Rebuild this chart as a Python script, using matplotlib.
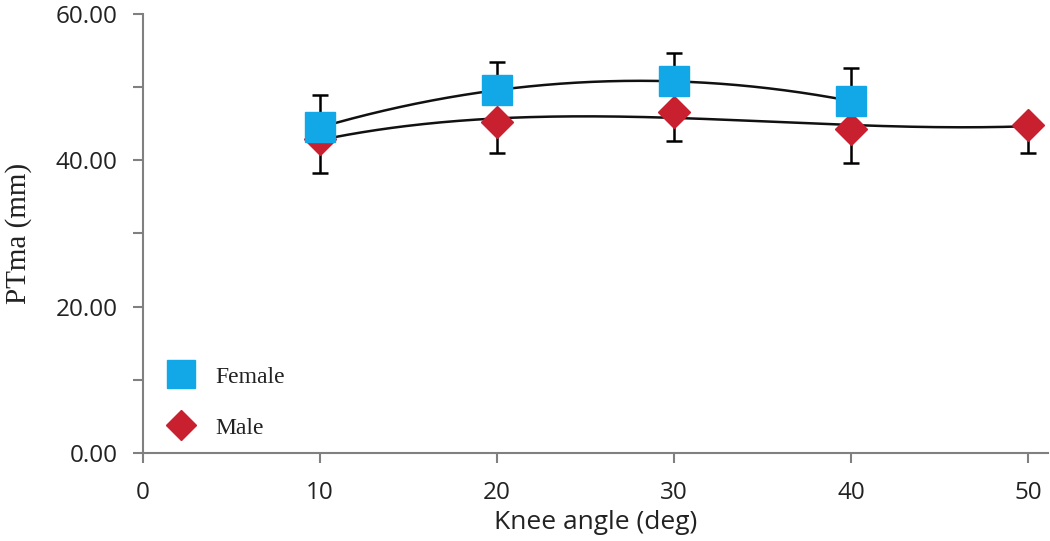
import numpy as np
import matplotlib
matplotlib.use("Agg")
import matplotlib.pyplot as plt
from matplotlib.ticker import MultipleLocator

angles_female = [10, 20, 30, 40]
female_mean = [44.5, 49.6, 50.8, 48.1]
female_err = [4.4, 3.9, 3.9, 4.5]

angles_male = [10, 20, 30, 40, 50]
male_mean = [42.9, 45.2, 46.6, 44.3, 44.8]
male_err = [4.7, 4.15, 4.0, 4.7, 3.75]

y_ticks = [0, 20, 40, 60]
x_ticks = [0, 10, 20, 30, 40, 50]

blue = "#12A8E8"
red = "#C8202F"

fig = plt.figure(figsize=(10.5, 5.41), dpi=100)
ax = fig.add_axes([0.136, 0.163, 0.862, 0.811])

sans = "Open Sans"
serif = "Liberation Serif"

# trend lines (polynomial fits)
xf = np.linspace(min(angles_female), max(angles_female), 200)
pf = np.polyfit(angles_female, female_mean, 3)
xm = np.linspace(min(angles_male), max(angles_male), 200)
pm = np.polyfit(angles_male, male_mean, 3)

ax.plot(xf, np.polyval(pf, xf), color="#111111", lw=1.8, zorder=1)
ax.plot(xm, np.polyval(pm, xm), color="#111111", lw=1.8, zorder=1)

# error bars
ax.errorbar(angles_female, female_mean, yerr=[np.zeros(len(female_err)), female_err],
            fmt="none", ecolor="black", elinewidth=1.8, capsize=6, capthick=1.8, zorder=2)
ax.errorbar(angles_male, male_mean, yerr=[male_err, np.zeros(len(male_err))],
            fmt="none", ecolor="black", elinewidth=1.8, capsize=6, capthick=1.8, zorder=2)

ax.plot(angles_male, male_mean, linestyle="none", marker="D", ms=16,
        color=red, label="Male", zorder=3)
ax.plot(angles_female, female_mean, linestyle="none", marker="s", ms=21,
        color=blue, label="Female", zorder=4)

ax.set_xlim(0, 51.1)
ax.set_ylim(0, 60)
ax.set_xticks(x_ticks)
ax.set_yticks(y_ticks)
ax.set_yticklabels([f"{v:.2f}" for v in y_ticks])
ax.yaxis.set_minor_locator(MultipleLocator(10))

for s in ["top", "right"]:
    ax.spines[s].set_visible(False)
for s in ["left", "bottom"]:
    ax.spines[s].set_color("#808080")
    ax.spines[s].set_linewidth(1.5)

ax.tick_params(axis="both", which="both", direction="out", color="#808080", width=1.5)
ax.tick_params(axis="y", which="major", length=7, pad=11)
ax.tick_params(axis="y", which="minor", length=7)
ax.tick_params(axis="x", which="major", length=7, pad=13)

for lab in ax.get_xticklabels() + ax.get_yticklabels():
    lab.set_fontfamily(sans)
    lab.set_fontsize(17.5)
    lab.set_color("#222222")

ax.set_xlabel("Knee angle (deg)", fontfamily=sans, fontsize=19, color="#222222", labelpad=4)
ax.set_ylabel("PTma (mm)", fontfamily=serif, fontsize=21, color="#222222", labelpad=17)

handles, labels = ax.get_legend_handles_labels()
order = [labels.index("Female"), labels.index("Male")]
leg = ax.legend([handles[i] for i in order], [labels[i] for i in order],
                loc="lower left", bbox_to_anchor=(0.0, 0.0), frameon=False,
                prop={"family": serif, "size": 17}, handletextpad=0.48,
                labelspacing=1.25, borderaxespad=0.2, markerscale=0.95)
for t in leg.get_texts():
    t.set_color("#222222")

fig.savefig("out.png", dpi=100)
